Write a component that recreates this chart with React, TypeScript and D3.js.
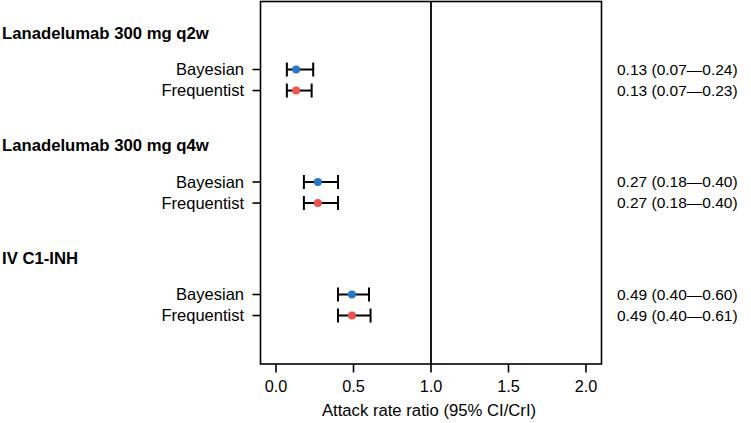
import React from "react";
import * as d3 from "d3";

const groups = ["Lanadelumab 300 mg q2w", "Lanadelumab 300 mg q4w", "IV C1-INH"];
const methods = ["Bayesian", "Frequentist"];
const bayesEst = [0.13, 0.27, 0.49];
const bayesLo = [0.07, 0.18, 0.4];
const bayesHi = [0.24, 0.4, 0.6];
const freqEst = [0.13, 0.27, 0.49];
const freqLo = [0.07, 0.18, 0.4];
const freqHi = [0.23, 0.4, 0.61];
const xTicks = [0, 0.5, 1, 1.5, 2];
const methodColors = ["#2677c4", "#f0534f"];

const W = 751;
const H = 423;
const FONT = "'Liberation Sans', Arial, Helvetica, sans-serif";

export default function App() {
  const panel = { left: 260.5, right: 601.5, top: 1.5, bottom: 364 };
  const x = d3.scaleLinear().domain([-0.1, 2.1]).range([panel.left, panel.right]);
  const y = d3.scaleLinear().domain([0, 3]).range([10, 347.5]);
  const headerOff = 0.204;
  const rowOff = [0.529, 0.716];

  const rows = groups.flatMap((g, gi) =>
    methods.map((m, mi) => ({
      group: gi,
      method: m,
      mi,
      est: mi === 0 ? bayesEst[gi] : freqEst[gi],
      lo: mi === 0 ? bayesLo[gi] : freqLo[gi],
      hi: mi === 0 ? bayesHi[gi] : freqHi[gi],
      y: y(gi + rowOff[mi]),
    }))
  );

  const fmt = d3.format(".2f");
  const capH = 7;

  return (
    <svg
      width={W}
      height={H}
      style={{ position: "absolute", left: 0, top: 0, background: "#fff" }}
      fontFamily={FONT}
    >
      <rect x={0} y={0} width={W} height={H} fill="#fff" />
      {/* panel */}
      <rect
        x={panel.left}
        y={panel.top}
        width={panel.right - panel.left}
        height={panel.bottom - panel.top}
        fill="none"
        stroke="#000"
        strokeWidth={1.6}
      />
      {/* reference line at 1 */}
      <line x1={x(1)} x2={x(1)} y1={panel.top} y2={panel.bottom} stroke="#000" strokeWidth={1.8} />

      {/* x axis ticks */}
      {xTicks.map((t) => (
        <g key={t}>
          <line x1={x(t)} x2={x(t)} y1={panel.bottom} y2={panel.bottom + 8.5} stroke="#000" strokeWidth={1.6} />
          <text x={x(t)} y={panel.bottom + 28} textAnchor="middle" fontSize={16.3} fill="#000">
            {d3.format(".1f")(t)}
          </text>
        </g>
      ))}
      <text x={x(1) - 2} y={416} textAnchor="middle" fontSize={16.7} fill="#000">
        Attack rate ratio (95% CI/CrI)
      </text>

      {/* group headers */}
      {groups.map((g, gi) => (
        <text key={g} x={2} y={y(gi + headerOff)} dy="0.35em" fontSize={16.7} fontWeight="bold" fill="#000">
          {g}
        </text>
      ))}

      {rows.map((r, i) => (
        <g key={i}>
          <line x1={panel.left - 8} x2={panel.left} y1={r.y} y2={r.y} stroke="#000" strokeWidth={1.6} />
          <text x={panel.left - 16.5} y={r.y} dy="0.35em" textAnchor="end" fontSize={16.5} fill="#000">
            {r.method}
          </text>
          <line x1={x(r.lo)} x2={x(r.hi)} y1={r.y} y2={r.y} stroke="#000" strokeWidth={2} />
          <line x1={x(r.lo)} x2={x(r.lo)} y1={r.y - capH} y2={r.y + capH} stroke="#000" strokeWidth={2} />
          <line x1={x(r.hi)} x2={x(r.hi)} y1={r.y - capH} y2={r.y + capH} stroke="#000" strokeWidth={2} />
          <circle cx={x(r.est)} cy={r.y} r={4} fill={methodColors[r.mi]} />
          <text x={617} y={r.y} dy="0.35em" fontSize={15.5} fill="#000">
            {`${fmt(r.est)} (${fmt(r.lo)}\u2014${fmt(r.hi)})`}
          </text>
        </g>
      ))}
    </svg>
  );
}
